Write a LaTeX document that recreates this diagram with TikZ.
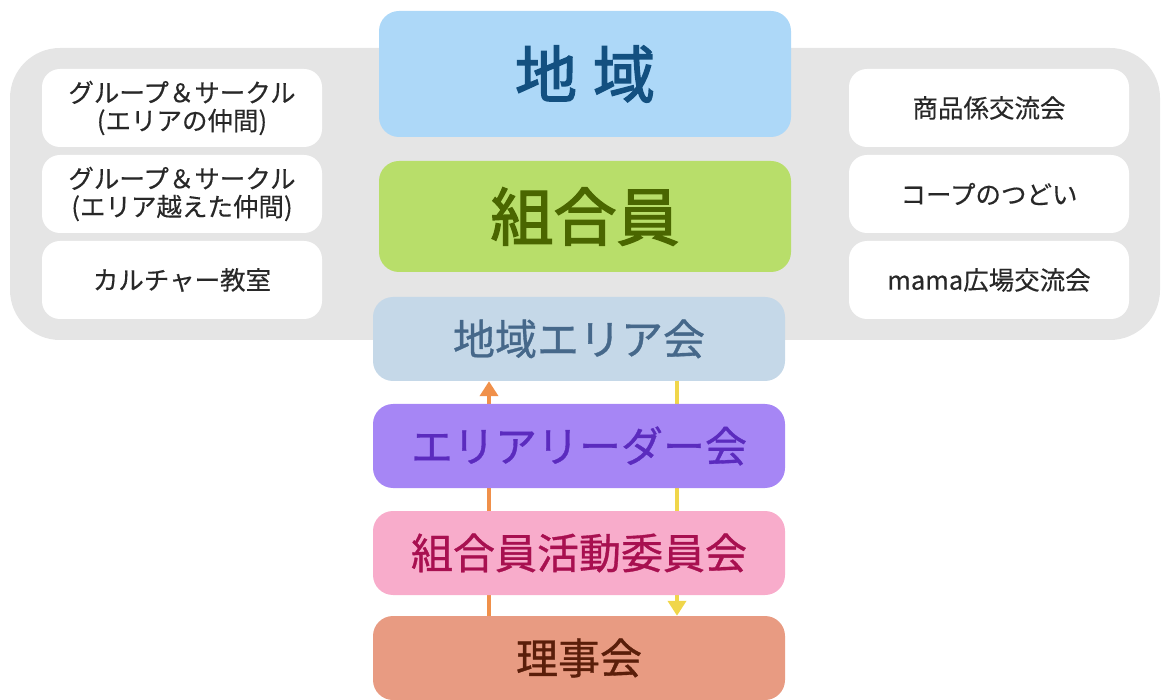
\documentclass[tikz,border=0pt]{standalone}
\usepackage{fontspec}
\setmainfont{Noto Sans CJK JP}
\newfontfamily\medfont[FakeBold=0.8]{Noto Sans CJK JP}
\newfontfamily\heavyfont[FakeBold=2.2]{Noto Sans CJK JP}
\newfontfamily\smallfont[FakeBold=0.3]{Noto Sans CJK JP}
\usetikzlibrary{arrows.meta}
\definecolor{bgGrey}{RGB}{229,229,229}
\definecolor{blueFill}{RGB}{173,216,248}
\definecolor{blueText}{RGB}{19,80,128}
\definecolor{greenFill}{RGB}{184,222,106}
\definecolor{greenText}{RGB}{74,102,0}
\definecolor{eaFill}{RGB}{197,216,232}
\definecolor{eaText}{RGB}{70,104,138}
\definecolor{purpFill}{RGB}{166,134,245}
\definecolor{purpText}{RGB}{91,43,190}
\definecolor{pinkFill}{RGB}{248,172,203}
\definecolor{pinkText}{RGB}{168,16,80}
\definecolor{salFill}{RGB}{232,155,130}
\definecolor{salText}{RGB}{90,30,10}
\definecolor{orangeLine}{RGB}{240,144,74}
\definecolor{yellowLine}{RGB}{240,214,74}
\definecolor{smallText}{RGB}{40,40,40}
\tikzset{
  mainbox/.style={rectangle, rounded corners=20pt, inner sep=0pt, minimum width=412pt, font=\medfont\fontsize{42}{48}\selectfont},
  smallbox/.style={rectangle, rounded corners=18pt, fill=white, inner sep=0pt, minimum width=280pt, minimum height=78pt, align=center, text=smallText, font=\smallfont\fontsize{25.5}{28}\selectfont},
  flowline/.style={line width=4pt, -{Triangle[width=18pt,length=15pt]}}
}
\begin{document}
\begin{tikzpicture}[x=1pt,y=-1pt]
\useasboundingbox (0,0) rectangle (1170,700);
% grey background
\fill[bgGrey, rounded corners=50pt] (10,48) rectangle (1160,340);
% coordinates for arrow lanes
\coordinate (ox) at (489,0);
\coordinate (yx) at (677,0);
% left boxes
\node[smallbox] (g1) at (182,108) {グループ＆サークル\\(エリアの仲間)};
\node[smallbox] (g2) at (182,194) {グループ＆サークル\\(エリア越えた仲間)};
\node[smallbox] (cu) at (182,280) {カルチャー教室};
% right boxes
\node[smallbox] (sh) at (989,108) {商品係交流会};
\node[smallbox] (co) at (989,194) {コープのつどい};
\node[smallbox] (ma) at (989,280) {mama広場交流会};
% main stack
\node[mainbox, fill=blueFill, text=blueText, minimum height=126pt, font=\heavyfont\fontsize{62}{70}\selectfont] (chiiki) at (585,74) {地\hspace{16pt}域};
\node[mainbox, fill=greenFill, text=greenText, minimum height=111pt, font=\heavyfont\fontsize{63}{70}\selectfont] (kumiai) at (585,216.5) {組合員};
\node[mainbox, fill=eaFill, text=eaText, minimum height=84pt] (ea) at (579,339) {地域エリア会};
\node[mainbox, fill=salFill, text=salText, minimum height=84pt] (rj) at (579,658) {理事会};
% arrows (drawn before the boxes they pass behind)
\draw[flowline, orangeLine] (rj.north -| ox) -- (ea.south -| ox);
\draw[flowline, yellowLine] (ea.south -| yx) -- (rj.north -| yx);
\node[mainbox, fill=purpFill, text=purpText, minimum height=84pt] (ld) at (579,446) {エリアリーダー会};
\node[mainbox, fill=pinkFill, text=pinkText, minimum height=84pt] (ii) at (579,553) {組合員活動委員会};
\end{tikzpicture}
\end{document}
